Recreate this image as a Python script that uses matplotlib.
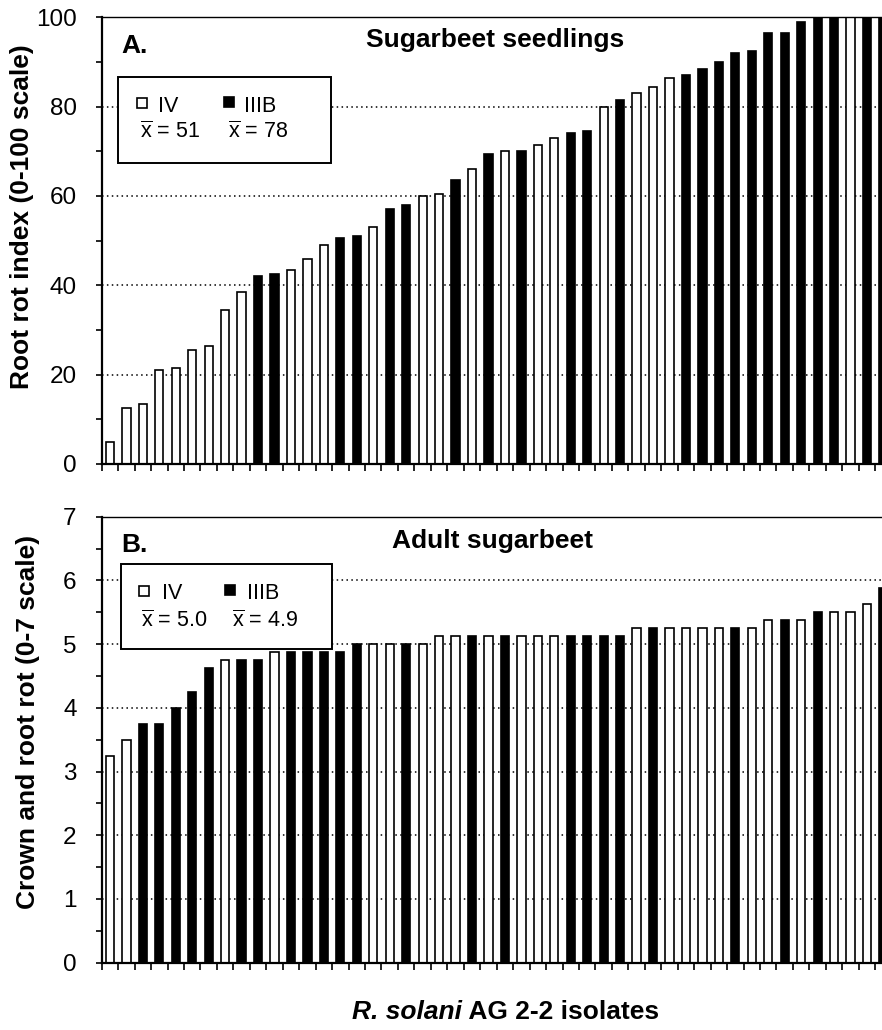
import matplotlib
matplotlib.use("Agg")
import matplotlib.pyplot as plt
import numpy as np
from matplotlib.lines import Line2D
from matplotlib.patches import Rectangle
from matplotlib.ticker import MultipleLocator

plt.rcParams["font.family"] = ["Liberation Sans", "DejaVu Sans"]
plt.rcParams["mathtext.fontset"] = "custom"
plt.rcParams["mathtext.rm"] = "Liberation Sans"
plt.rcParams["mathtext.it"] = "Liberation Sans:italic"
plt.rcParams["mathtext.bf"] = "Liberation Sans:bold"

# ------------------------------------------------------------
# data: one bar per isolate, sorted by severity
# ------------------------------------------------------------
seedling_index = [5, 12.5, 13.5, 21, 21.5, 25.5, 26.5, 34.5, 38.5, 42,
                  42.5, 43.5, 46, 49, 50.5, 51, 53, 57, 58, 60,
                  60.5, 63.5, 66, 69.5, 70, 70, 71.5, 73, 74, 74.5,
                  80, 81.5, 83, 84.5, 86.5, 87, 88.5, 90, 92, 92.5,
                  96.5, 96.5, 99, 100, 100, 100, 100, 100]
seedling_group = (["IV"] * 9 + ["IIIB"] * 2 + ["IV"] * 3 + ["IIIB"] * 2
                  + ["IV"] + ["IIIB"] * 2 + ["IV"] * 2 + ["IIIB"] + ["IV"]
                  + ["IIIB"] + ["IV"] + ["IIIB"] + ["IV"] * 2 + ["IIIB"] * 2
                  + ["IV"] + ["IIIB"] + ["IV"] * 3 + ["IIIB"] * 10 + ["IV"]
                  + ["IIIB"] * 2)

adult_rating = ([3.25, 3.5, 3.75, 3.75, 4.0, 4.25, 4.625, 4.75, 4.75, 4.75]
                + [4.875] * 5 + [5.0] * 5 + [5.125] * 12 + [5.25] * 8
                + [5.375] * 3 + [5.5] * 3 + [5.625, 5.875])
adult_group = ["IV", "IV", "IIIB", "IIIB", "IIIB", "IIIB", "IIIB", "IV",
               "IIIB", "IIIB", "IV", "IIIB", "IIIB", "IIIB", "IIIB", "IIIB",
               "IV", "IV", "IIIB", "IV", "IV", "IV", "IIIB", "IV",
               "IIIB", "IV", "IV", "IV", "IIIB", "IIIB", "IIIB", "IIIB",
               "IV", "IIIB", "IV", "IV", "IV", "IV", "IIIB", "IV",
               "IV", "IIIB", "IV", "IIIB", "IV", "IV", "IV", "IIIB"]

seedling_means = {"IV": "51", "IIIB": "78"}
adult_means = {"IV": "5.0", "IIIB": "4.9"}

GROUP_COLOR = {"IV": "white", "IIIB": "black"}

W, H = 882, 1030
fig = plt.figure(figsize=(W / 100, H / 100), dpi=100)


def fx(px):
    return px / W


def fy(py):
    return 1 - py / H


def draw_panel(ax, values, groups, ymax, major, minor):
    x = np.arange(1, len(values) + 1)
    colors = [GROUP_COLOR[g] for g in groups]
    ax.bar(x, values, width=0.5, color=colors, edgecolor="black",
           linewidth=1.2, zorder=2)
    ax.set_xlim(0.5, len(values) + 0.5)
    ax.set_ylim(0, ymax)
    ax.set_xticks(np.arange(0.5, len(values) + 1, 1))
    ax.set_xticklabels([])
    ax.yaxis.set_major_locator(MultipleLocator(major))
    ax.yaxis.set_minor_locator(MultipleLocator(minor))
    ax.tick_params(axis="x", direction="out", length=5, width=1.2)
    ax.tick_params(axis="y", which="both", direction="out", length=4,
                   width=1.2, labelsize=17.5, pad=14)
    ax.grid(axis="y", which="major", color="black", lw=1.1,
            ls=(0, (1, 2.2)))
    ax.set_axisbelow(True)
    ax.spines["right"].set_visible(False)
    ax.spines["left"].set_linewidth(1.6)
    ax.spines["bottom"].set_linewidth(1.6)
    ax.spines["top"].set_linewidth(1.0)


def draw_key(box, sq_white, sq_black, row1, row2, means, cols):
    x0, y0, x1, y1 = box
    fig.add_artist(Rectangle((fx(x0), fy(y1)), fx(x1 - x0), (y1 - y0) / H,
                             transform=fig.transFigure, facecolor="white",
                             edgecolor="black", lw=1.4, zorder=5))
    for (sx, sy), fc in [(sq_white, "white"), (sq_black, "black")]:
        fig.add_artist(Line2D([fx(sx)], [fy(sy)], marker="s", ms=7,
                              mfc=fc, mec="black", mew=1.2, ls="none",
                              transform=fig.transFigure, zorder=6))
    for (tx, g), mx in zip(cols, means):
        fig.text(fx(tx), fy(row1), g, fontsize=15.5, va="baseline", zorder=6)
        fig.text(fx(mx), fy(row2), r"$\overline{\mathrm{x}}$ = " + means[mx],
                 fontsize=15.5, va="baseline", zorder=6)


# panel A
ax_a = fig.add_axes([fx(101.7), fy(464), 790 / W, 446.7 / H])
draw_panel(ax_a, seedling_index, seedling_group, 100, 20, 10)
ax_a.set_ylabel("Root rot index (0-100 scale)", fontsize=19,
                fontweight="bold")
ax_a.yaxis.set_label_coords((34 - 101.7) / 790, (464 - 216.5) / 446.7)
fig.text(fx(121), fy(53), "A.", fontsize=19, fontweight="bold",
         va="baseline")
fig.text(fx(495), fy(47.5), "Sugarbeet seedlings", fontsize=19,
         fontweight="bold", ha="center", va="baseline")
draw_key((118.3, 76.7, 331, 162.7), (142, 103), (228.5, 102),
         111.7, 138.3,
         {140: seedling_means["IV"], 228: seedling_means["IIIB"]},
         [(158.3, "IV"), (244, "IIIB")])

# panel B
ax_b = fig.add_axes([fx(101.7), fy(962.7), 790 / W, 446 / H])
draw_panel(ax_b, adult_rating, adult_group, 7, 1, 0.5)
ax_b.set_ylabel("Crown and root rot (0-7 scale)", fontsize=19,
                fontweight="bold")
ax_b.yaxis.set_label_coords((40 - 101.7) / 790, (962.7 - 721.7) / 446)
fig.text(fx(121), fy(551.5), "B.", fontsize=19, fontweight="bold",
         va="baseline")
fig.text(fx(493), fy(548), "Adult sugarbeet", fontsize=19,
         fontweight="bold", ha="center", va="baseline")
draw_key((120.7, 564.3, 332.3, 649.3), (144, 591), (230.3, 590),
         599, 626.7,
         {141: adult_means["IV"], 231.7: adult_means["IIIB"]},
         [(161.7, "IV"), (246.7, "IIIB")])

# x label: italic species name followed by bold text
lab1 = fig.text(fx(352), fy(1019), "R. solani", fontsize=19,
                fontweight="bold", fontstyle="italic", va="baseline")
fig.canvas.draw()
bb = lab1.get_window_extent()
fig.text(bb.x1 / W, fy(1019), " AG 2-2 isolates", fontsize=19,
         fontweight="bold", va="baseline")

fig.savefig("out.png", dpi=100)
